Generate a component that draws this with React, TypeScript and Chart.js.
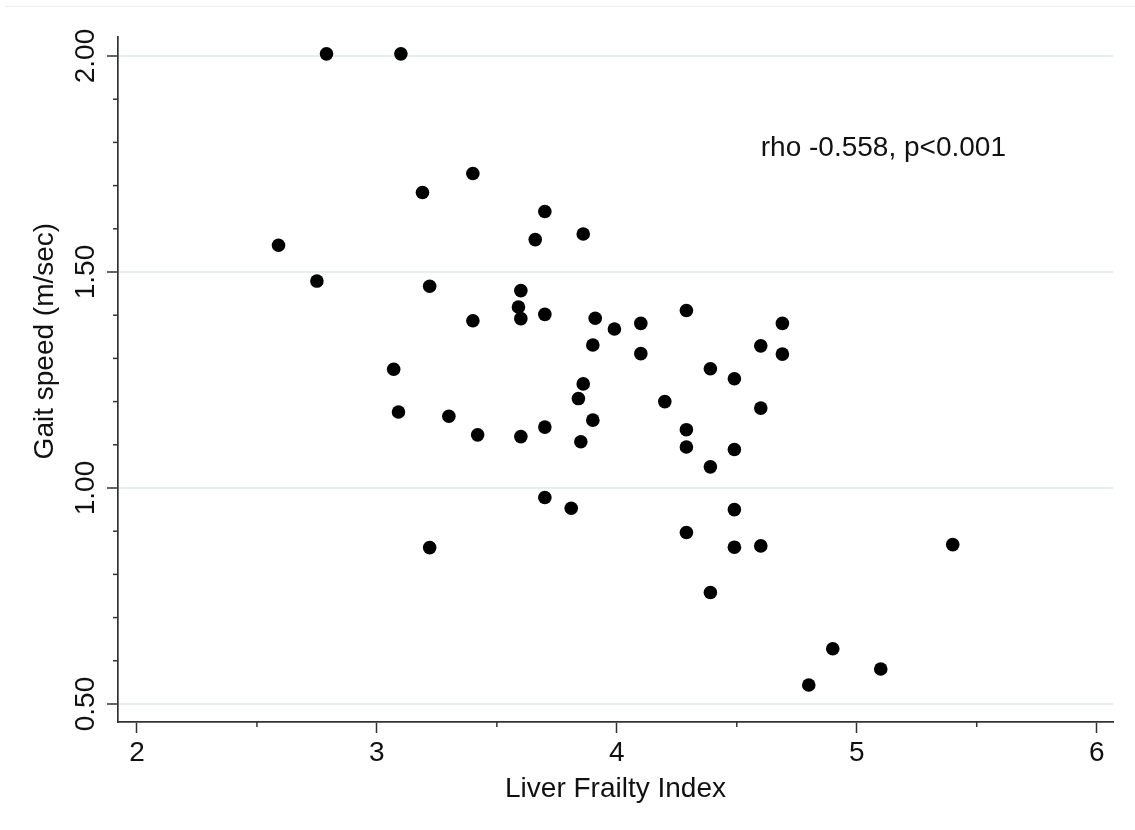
import React, { useEffect, useRef } from 'react';
import { Chart, registerables } from 'chart.js';

Chart.register(...registerables);

// Liver Frailty Index (x) and Gait speed in m/sec (y), one entry per patient
const lfi = [
  2.79, 3.1, 3.4, 3.19, 3.7, 3.66, 3.86, 2.59, 2.75, 3.22,
  3.6, 3.59, 3.6, 3.4, 3.7, 3.91, 3.99, 3.9, 3.07, 4.29,
  4.1, 4.69, 4.1, 4.6, 4.69, 4.39, 3.09, 3.3, 3.42, 3.6,
  3.7, 3.86, 3.84, 3.9, 3.85, 3.7, 3.81, 3.22, 4.49, 4.2,
  4.6, 4.29, 4.29, 4.49, 4.39, 4.49, 4.29, 4.49, 4.6, 5.4,
  4.39, 4.9, 5.1, 4.8,
];
const gaitSpeed = [
  2.005, 2.005, 1.728, 1.684, 1.64, 1.575, 1.588, 1.562, 1.479, 1.467,
  1.457, 1.419, 1.392, 1.387, 1.402, 1.393, 1.368, 1.331, 1.275, 1.411,
  1.381, 1.381, 1.311, 1.329, 1.31, 1.276, 1.176, 1.166, 1.123, 1.119,
  1.141, 1.241, 1.207, 1.157, 1.107, 0.978, 0.953, 0.862, 1.253, 1.2,
  1.185, 1.135, 1.095, 1.089, 1.049, 0.95, 0.897, 0.863, 0.866, 0.869,
  0.758, 0.628, 0.581, 0.544,
];

const xMajorTicks = [2, 3, 4, 5, 6];
const xMinorTicks = [2.5, 3.5, 4.5, 5.5];
const yMajorTicks = [0.5, 1.0, 1.5, 2.0];
const yMinorTicks = [0.6, 0.7, 0.8, 0.9, 1.1, 1.2, 1.3, 1.4, 1.6, 1.7, 1.8, 1.9];

const xTitle = 'Liver Frailty Index';
const yTitle = 'Gait speed (m/sec)';
const yTitleCenterValue = 1.34;
const annotationText = 'rho -0.558, p<0.001';
const annotationX = 4.6;
const annotationY = 1.768;

export default function App() {
  const ref = useRef<HTMLCanvasElement>(null);

  useEffect(() => {
    const canvas = ref.current;
    if (!canvas) return;
    const FONT = '"Liberation Sans", Arial, sans-serif';
    const AXIS = '#333333';
    const TEXT = '#111111';

    const decor = {
      id: 'stataDecor',
      beforeDraw(chart: any) {
        const { ctx, width } = chart;
        ctx.save();
        ctx.strokeStyle = '#eeeeee';
        ctx.lineWidth = 1;
        ctx.beginPath();
        ctx.moveTo(5, 6.5);
        ctx.lineTo(width, 6.5);
        ctx.stroke();
        ctx.restore();
      },
      afterDraw(chart: any) {
        const { ctx, chartArea } = chart;
        const xs = chart.scales.x;
        const ys = chart.scales.y;
        ctx.save();
        ctx.strokeStyle = AXIS;
        ctx.lineWidth = 1.5;
        xMinorTicks.forEach((v) => {
          const px = xs.getPixelForValue(v);
          ctx.beginPath();
          ctx.moveTo(px, chartArea.bottom);
          ctx.lineTo(px, chartArea.bottom + 5);
          ctx.stroke();
        });
        yMinorTicks.forEach((v) => {
          const py = ys.getPixelForValue(v);
          ctx.beginPath();
          ctx.moveTo(chartArea.left, py);
          ctx.lineTo(chartArea.left - 5, py);
          ctx.stroke();
        });
        ctx.fillStyle = TEXT;
        ctx.font = `28px ${FONT}`;
        ctx.textAlign = 'center';
        ctx.textBaseline = 'alphabetic';
        yMajorTicks.forEach((v) => {
          ctx.save();
          ctx.translate(chartArea.left - 24, ys.getPixelForValue(v));
          ctx.rotate(-Math.PI / 2);
          ctx.fillText(v.toFixed(2), 0, 0);
          ctx.restore();
        });
        // y axis title
        ctx.save();
        ctx.translate(53, ys.getPixelForValue(yTitleCenterValue));
        ctx.rotate(-Math.PI / 2);
        ctx.fillText(yTitle, 0, 0);
        ctx.restore();
        // annotation
        ctx.textAlign = 'left';
        ctx.fillText(annotationText, xs.getPixelForValue(annotationX), ys.getPixelForValue(annotationY));
        ctx.restore();
      },
    };

    const chart = new Chart(canvas, {
      type: 'scatter',
      data: {
        datasets: [
          {
            data: lfi.map((v, i) => ({ x: v, y: gaitSpeed[i] })),
            backgroundColor: '#000000',
            borderColor: '#000000',
            borderWidth: 0,
            pointRadius: 6.8,
            pointHoverRadius: 6.8,
          },
        ],
      },
      options: {
        animation: false,
        responsive: false,
        events: [],
        layout: { padding: { top: 37, right: 22, left: 0, bottom: 0 }, autoPadding: false },
        plugins: { legend: { display: false }, tooltip: { enabled: false } },
        scales: {
          x: {
            type: 'linear',
            position: 'bottom',
            min: 1.921,
            max: 6.068,
            afterBuildTicks: (s: any) => {
              s.ticks = xMajorTicks.map((value) => ({ value }));
            },
            afterFit: (s: any) => {
              s.height = 108;
            },
            grid: {
              drawOnChartArea: false,
              drawTicks: true,
              tickLength: 11,
              tickColor: AXIS,
              tickWidth: 1.5,
            },
            border: { display: true, color: AXIS, width: 1.7 },
            ticks: {
              font: { family: FONT, size: 28 },
              color: TEXT,
              padding: 3,
              maxRotation: 0,
              minRotation: 0,
              callback: (v: any) => String(v),
            },
            title: {
              display: true,
              text: xTitle,
              font: { family: FONT, size: 28 },
              color: TEXT,
              padding: { top: 0, bottom: 24 },
            },
          },
          y: {
            type: 'linear',
            position: 'left',
            min: 0.4583,
            max: 2.044,
            afterBuildTicks: (s: any) => {
              s.ticks = yMajorTicks.map((value) => ({ value }));
            },
            afterFit: (s: any) => {
              s.width = 118;
            },
            grid: {
              color: '#e9eeee',
              lineWidth: 2,
              drawTicks: true,
              tickLength: 11,
              tickColor: AXIS,
              tickWidth: 1.5,
            },
            border: { display: true, color: AXIS, width: 1.7 },
            ticks: { display: false },
            title: { display: false },
          },
        },
      },
      plugins: [decor],
    } as any);

    return () => chart.destroy();
  }, []);

  return (
    <div style={{ position: 'fixed', left: 0, top: 0, width: 1135, height: 830, background: '#ffffff' }}>
      <canvas ref={ref} width={1135} height={830} style={{ display: 'block' }} />
    </div>
  );
}
